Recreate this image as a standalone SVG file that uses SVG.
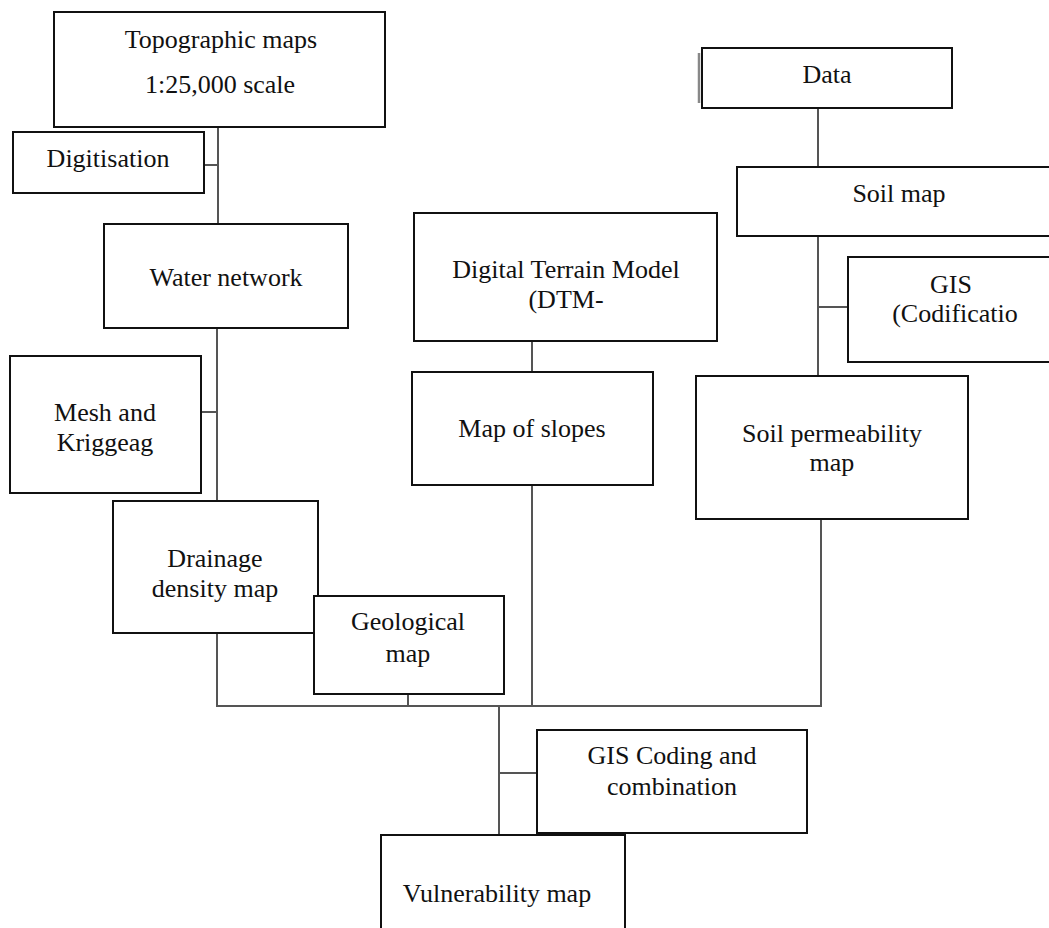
<svg xmlns="http://www.w3.org/2000/svg" width="1049" height="928" viewBox="0 0 1049 928">
<style>
.box{fill:#fff;stroke:#111;stroke-width:2}
.t{font-family:"Liberation Serif","Times New Roman",serif;font-size:26px;fill:#111;text-anchor:middle}
.c{stroke:#555;stroke-width:2;fill:none}
</style>
<rect width="1049" height="928" fill="#fff"/>
<g id="connectors">
<line class="c" x1="218" y1="127" x2="218" y2="224"/>
<line class="c" x1="204" y1="165" x2="218" y2="165"/>
<line class="c" x1="217" y1="328" x2="217" y2="501"/>
<line class="c" x1="201" y1="412" x2="217" y2="412"/>
<line class="c" x1="217" y1="633" x2="217" y2="706"/>
<line class="c" x1="408" y1="694" x2="408" y2="706"/>
<line class="c" x1="532" y1="341" x2="532" y2="372"/>
<line class="c" x1="532" y1="485" x2="532" y2="706"/>
<line class="c" x1="818" y1="108" x2="818" y2="167"/>
<line class="c" x1="818" y1="236" x2="818" y2="376"/>
<line class="c" x1="818" y1="307" x2="848" y2="307"/>
<line class="c" x1="821" y1="519" x2="821" y2="706"/>
<line class="c" x1="216" y1="706" x2="822" y2="706"/>
<line class="c" x1="499" y1="706" x2="499" y2="835"/>
<line class="c" x1="499" y1="773" x2="537" y2="773"/>
</g>
<g id="topo">
<rect class="box" x="54" y="12" width="331" height="115"/>
<text class="t" x="221" y="48">Topographic maps</text>
<text class="t" x="220" y="93">1:25,000 scale</text>
</g>
<g id="digitisation">
<rect class="box" x="13" y="132" width="191" height="61"/>
<text class="t" x="108" y="167">Digitisation</text>
</g>
<g id="water">
<rect class="box" x="104" y="224" width="244" height="104"/>
<text class="t" x="226" y="286">Water network</text>
</g>
<g id="mesh">
<rect class="box" x="10" y="356" width="191" height="137"/>
<text class="t" x="105" y="421">Mesh and</text>
<text class="t" x="105" y="451">Kriggeag</text>
</g>
<g id="drainage">
<rect class="box" x="113" y="501" width="205" height="132"/>
<text class="t" x="215" y="567">Drainage</text>
<text class="t" x="215" y="597">density map</text>
</g>
<g id="geological">
<rect class="box" x="314" y="596" width="190" height="98"/>
<text class="t" x="408" y="630">Geological</text>
<text class="t" x="408" y="662">map</text>
</g>
<g id="dtm">
<rect class="box" x="414" y="213" width="303" height="128"/>
<text class="t" x="566" y="278">Digital Terrain Model</text>
<text class="t" x="566" y="308">(DTM-</text>
</g>
<g id="slopes">
<rect class="box" x="412" y="372" width="241" height="113"/>
<text class="t" x="532" y="437">Map of slopes</text>
</g>
<g id="data">
<line x1="699" y1="53" x2="699" y2="103" stroke="#888" stroke-width="2.5"/>
<rect class="box" x="702" y="48" width="250" height="60"/>
<text class="t" x="827" y="83">Data</text>
</g>
<g id="soilmap">
<rect class="box" x="737" y="167" width="325" height="69"/>
<text class="t" x="899" y="202">Soil map</text>
</g>
<g id="gis-codification">
<rect class="box" x="848" y="257" width="215" height="105"/>
<text class="t" x="951" y="293">GIS</text>
<text class="t" x="955" y="322">(Codificatio</text>
</g>
<g id="soilperm">
<rect class="box" x="696" y="376" width="272" height="143"/>
<text class="t" x="832" y="442">Soil permeability</text>
<text class="t" x="832" y="471">map</text>
</g>
<g id="gis-coding">
<rect class="box" x="537" y="730" width="270" height="103"/>
<text class="t" x="672" y="764">GIS Coding and</text>
<text class="t" x="672" y="795">combination</text>
</g>
<g id="vulnerability">
<rect class="box" x="381" y="835" width="244" height="110"/>
<text class="t" x="497" y="902">Vulnerability map</text>
</g>
</svg>
